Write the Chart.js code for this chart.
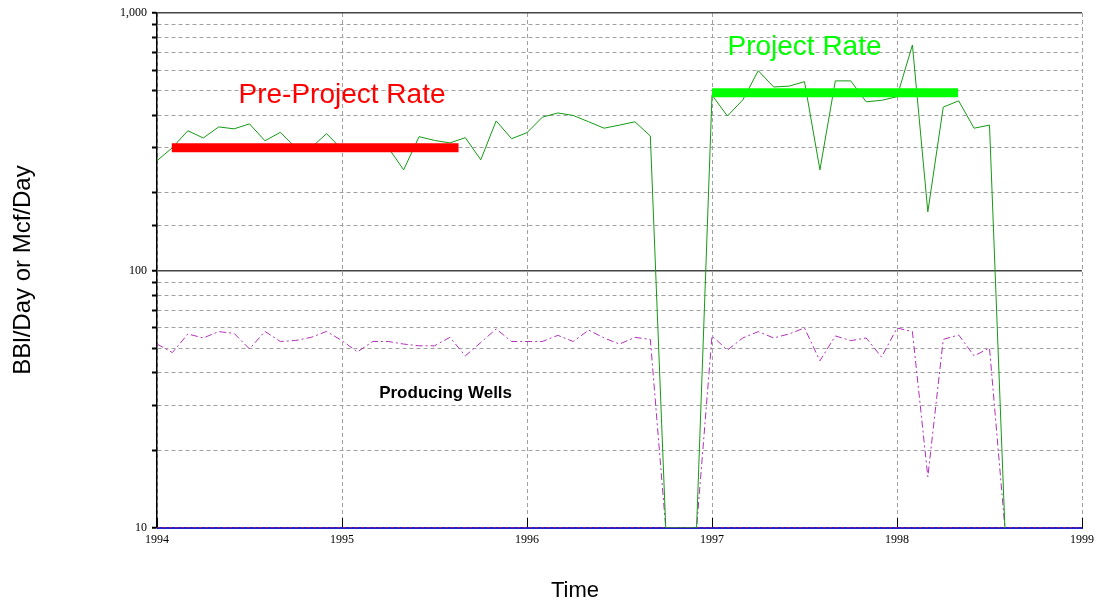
<!DOCTYPE html>
<html>
<head>
<meta charset="utf-8">
<script src="https://cdn.jsdelivr.net/npm/chart.js@4.4.1/dist/chart.umd.min.js"></script>
<style>
html, body { margin: 0; padding: 0; background: #fff; }
#wrap { width: 1099px; height: 606px; }
</style>
</head>
<body>
<div id="wrap"><canvas id="chart" width="1099" height="606"></canvas></div>
<script>
// monthly values, first point = Jan 1994
const startYear = 1994;

const oilRate = [
    267, 300, 349, 327, 361, 355, 371, 319, 344, 300, 300, 340,   // 1994
    295, 300, 295, 300, 246, 331, 320, 313, 328, 269, 381, 325,   // 1995
    343, 394, 409, 400, 378, 357, 367, 378, 333, 10, 10, 10,      // 1996
    480, 398, 460, 597, 516, 520, 541, 246, 545, 545, 452, 458,   // 1997
    473, 751, 169, 431, 456, 357, 367, 10                         // 1998
];

const producingWells = [
    51.8, 48, 56.7, 54.7, 57.9, 57, 49.6, 58, 53, 53.5, 55, 58,
    53.4, 48.3, 53, 53, 51.8, 51, 51, 55, 46.6, 52.5, 59.3, 53,
    53, 53, 56, 53, 58.7, 54.7, 51.8, 55, 54, 10, 10, 10,
    55.7, 49.1, 54.7, 57.9, 54.7, 56.7, 59.8, 44.6, 55.7, 53.4, 54.7, 46.1,
    59.8, 57.9, 15.8, 54, 56.2, 46.6, 50, 10
];

const preProjectSpan = [1994.08, 1995.63];
const preProjectRate = [300, 300];
const projectSpan = [1997.0, 1998.33];
const projectRate = [490, 490];
const baseSpan = [1994, 1999];
const baseLine = [10, 10];

const yearTicks = [1994, 1995, 1996, 1997, 1998, 1999];
const yLabels = [10, 100, 1000];

function monthly(arr){
    return arr.map((v, i) => ({ x: startYear + i / 12, y: v }));
}
function pairs(xs, ys){
    return xs.map((x, i) => ({ x: x, y: ys[i] }));
}
function isMajor(v){
    return yLabels.some(l => Math.abs(Math.log10(v) - Math.log10(l)) < 1e-6);
}

const textPlugin = {
    id: 'texts',
    afterDatasetsDraw(chart){
        const ctx = chart.ctx;
        const x = chart.scales.x, y = chart.scales.y;
        ctx.save();
        ctx.textAlign = 'center';
        ctx.textBaseline = 'alphabetic';

        ctx.fillStyle = '#ff0000';
        ctx.font = '28px "Liberation Sans", Arial, sans-serif';
        ctx.fillText('Pre-Project Rate', x.getPixelForValue(1995.0), y.getPixelForValue(447));

        ctx.fillStyle = '#00ff00';
        ctx.fillText('Project Rate', x.getPixelForValue(1997.5), y.getPixelForValue(687));

        ctx.fillStyle = '#000';
        ctx.font = 'bold 17px "Liberation Sans", Arial, sans-serif';
        ctx.fillText('Producing Wells', x.getPixelForValue(1995.56), y.getPixelForValue(32));

        // axis titles
        ctx.font = '22px "Liberation Sans", Arial, sans-serif';
        ctx.textBaseline = 'middle';
        ctx.fillText('Time', 575, 591);

        ctx.translate(23, 270);
        ctx.rotate(-Math.PI / 2);
        ctx.font = '24px "Liberation Sans", Arial, sans-serif';
        ctx.fillText('BBl/Day or Mcf/Day', 0, 0);
        ctx.restore();
    }
};

new Chart(document.getElementById('chart'), {
    type: 'line',
    data: {
        // first dataset is painted last (on top)
        datasets: [
            { data: pairs(preProjectSpan, preProjectRate), borderColor: '#ff0000', borderWidth: 9, borderCapStyle: 'butt' },
            { data: pairs(projectSpan, projectRate), borderColor: '#00ff00', borderWidth: 9, borderCapStyle: 'butt' },
            { data: monthly(oilRate), borderColor: '#149a14', borderWidth: 1 },
            { data: monthly(producingWells), borderColor: '#b030b8', borderWidth: 1, borderDash: [7, 3, 2, 3] },
            { data: pairs(baseSpan, baseLine), borderColor: '#e02020', borderWidth: 1, borderDash: [3, 3] },
            { data: pairs(baseSpan, baseLine), borderColor: '#2020d0', borderWidth: 2 }
        ]
    },
    options: {
        responsive: false,
        animation: false,
        layout: { padding: { top: 13, right: 17, left: 0, bottom: 0 } },
        elements: { point: { radius: 0 }, line: { tension: 0 } },
        plugins: { legend: { display: false }, tooltip: { enabled: false } },
        scales: {
            x: {
                type: 'linear',
                min: 1994,
                max: 1999,
                afterFit: s => { s.height = 78; s.paddingLeft = 0; s.paddingRight = 0; },
                afterBuildTicks: s => { s.ticks = yearTicks.map(v => ({ value: v })); },
                ticks: {
                    callback: v => String(v),
                    color: '#000',
                    font: { family: '"Liberation Serif", serif', size: 12 },
                    padding: 15,
                    maxRotation: 0
                },
                grid: { color: '#a0a0a0', lineWidth: 1, tickColor: '#000', tickLength: -10, tickWidth: 1 },
                border: { display: true, color: '#2020d0', width: 1, dash: [4, 3] }
            },
            y: {
                type: 'logarithmic',
                min: 10,
                max: 1000,
                afterFit: s => { s.width = 157; s.paddingTop = 0; s.paddingBottom = 0; },
                ticks: {
                    autoSkip: false,
                    callback: v => {
                        if (Math.abs(v - 1000) < 1e-6) return '1,000';
                        if (isMajor(v)) return String(Math.round(v));
                        return '';
                    },
                    color: '#000',
                    font: { family: '"Liberation Serif", serif', size: 12 },
                    padding: 5
                },
                grid: {
                    color: c => (c.tick && isMajor(c.tick.value)) ? '#444' : '#a0a0a0',
                    lineWidth: c => (c.tick && isMajor(c.tick.value)) ? 1.5 : 1,
                    tickColor: '#000',
                    tickLength: 5,
                    tickWidth: 2
                },
                border: {
                    display: true,
                    color: '#000',
                    width: 1.5,
                    dash: c => (c.tick && isMajor(c.tick.value)) ? [] : [4, 3]
                }
            }
        }
    },
    plugins: [textPlugin]
});
</script>
</body>
</html>
